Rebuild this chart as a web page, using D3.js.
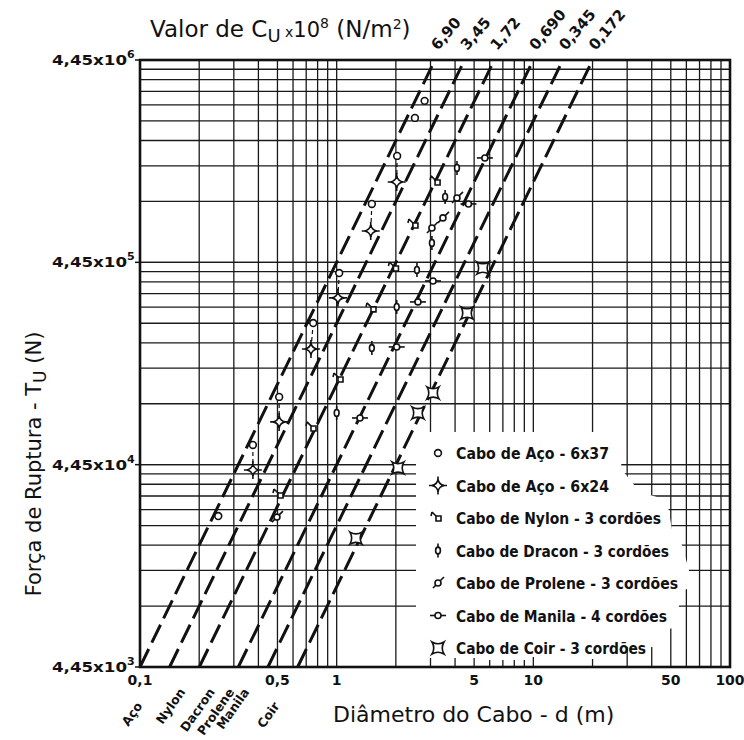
<!DOCTYPE html>
<html>
<head>
<meta charset="utf-8">
<script src="https://cdn.jsdelivr.net/npm/d3@7"></script>
<style>
  body { margin: 0; background: #fff; }
  svg { display: block; }
  text { font-family: "DejaVu Sans", sans-serif; fill: #111; }
</style>
</head>
<body>
<svg id="chart" width="744" height="740"></svg>
<script>
// Ultimate strength coefficients Cu (x10^8 N/m^2) of the reference lines
const cuValues = [6.90, 3.45, 1.72, 0.690, 0.345, 0.172];
const cuLabels = ["6,90", "3,45", "1,72", "0,690", "0,345", "0,172"];

// Material names written under the bottom axis and the diameter where each ends
const materialNames = ["Aço", "Nylon", "Dacron", "Prolene", "Manila", "Coir"];
const materialAt = [0.1, 0.165, 0.233, 0.293, 0.349, 0.497];

// Axis tick labels
const xTickValues = [0.1, 0.5, 1, 5, 10, 50, 100];
const xTickLabels = ["0,1", "0,5", "1", "5", "10", "50", "100"];
const yTickValues = [4450, 44500, 445000, 4450000];
const yTickExp = ["3", "4", "5", "6"];

// Measured breaking force Tu (N) against rope diameter d
const aco6x37 = [[0.25, 24800], [0.375, 55700], [0.51, 96200], [0.76, 223000], [1.03, 394000],
                 [1.51, 865000], [2.03, 1494000], [2.5, 2302000], [2.8, 2795000]];
const aco6x24 = [[0.375, 41900], [0.51, 72400], [0.74, 166000], [1.015, 297000], [1.49, 636000],
                 [2.02, 1111000]];
const nylon   = [[0.515, 31500], [0.758, 67600], [1.04, 118000], [1.53, 262000], [1.99, 417000],
                 [2.5, 681000], [3.24, 1111000]];
const dracon  = [[1.0, 80200], [1.51, 167900], [2.02, 267900], [2.56, 408000], [3.05, 555000],
                 [3.56, 937000], [4.09, 1303000]];
const prolene = [[0.497, 24500], [3.05, 658000], [3.47, 738000], [4.09, 926000]];
const manila  = [[1.314, 75700], [2.02, 169900], [2.59, 283600], [3.09, 360000], [4.68, 865000],
                 [5.67, 1460000]];
const coir    = [[1.253, 19300], [2.05, 42900], [2.59, 80200], [3.09, 100700], [4.6, 250000],
                 [5.54, 417000]];

const seriesNames = ["Cabo de Aço - 6x37", "Cabo de Aço - 6x24", "Cabo de Nylon - 3 cordões",
  "Cabo de Dracon - 3 cordões", "Cabo de Prolene - 3 cordões", "Cabo de Manila - 4 cordões",
  "Cabo de Coir - 3 cordões"];
const seriesData = [aco6x37, aco6x24, nylon, dracon, prolene, manila, coir];
const seriesShape = ["circle", "star", "nylon", "dracon", "prolene", "manila", "coir"];

// ---------------------------------------------------------------
const L = 140, R = 730, T = 60, B = 667;
const x = d3.scaleLog().domain([0.1, 100]).range([L, R]);
const y = d3.scaleLog().domain([4450, 4450000]).range([B, T]);
const svg = d3.select("#chart");

// log grid: every integer multiple inside each decade
const yGrid = [];
[4450, 44500, 445000].forEach(base => { for (let k = 1; k <= 10; k++) yGrid.push(base * k); });

const grid = svg.append("g").attr("stroke", "#1a1a1a").attr("stroke-width", 1.3);
grid.selectAll("line.v").data(x.ticks()).join("line")
  .attr("x1", d => x(d)).attr("x2", d => x(d)).attr("y1", T).attr("y2", B);
grid.selectAll("line.h").data(yGrid).join("line")
  .attr("y1", d => y(d)).attr("y2", d => y(d)).attr("x1", L).attr("x2", R);

// white panel behind the legend
svg.append("path")
  .attr("d", "M416,432 L612,432 L619,448 L622,470 L640,492 L667,500 L672,530 L682,545 L690,574 L690,588 L681,591 L676,627 L666,630 L666,666 L416,666 Z")
  .attr("fill", "#fff");

// bottom axis stubs that remain under the legend panel
const stubs = [[3, 9], [4, 9], [5, 9], [6, 7], [7, 7], [8, 7], [9, 7], [10, 10], [20, 8], [30, 20], [40, 20]];
svg.append("g").attr("stroke", "#1a1a1a").attr("stroke-width", 1.3)
  .selectAll("line").data(stubs).join("line")
  .attr("x1", d => x(d[0])).attr("x2", d => x(d[0]))
  .attr("y1", B).attr("y2", d => B - d[1]);

// Cu reference lines: Tu = Cu * 1e8 * (0.0254 d)^2
const dAt = (tu, cu) => Math.sqrt(tu / (cu * 1e8)) / 0.0254;
svg.append("g").attr("stroke", "#111").attr("stroke-width", 3)
  .attr("stroke-dasharray", "20,7").attr("fill", "none")
  .selectAll("line").data(cuValues).join("line")
  .attr("x1", cu => x(dAt(4450, cu))).attr("y1", y(4450))
  .attr("x2", cu => x(dAt(4450000, cu))).attr("y2", y(4450000));

// thin dashed ties between the two steel ropes of the same diameter
const ties = aco6x24.map((p, i) => [aco6x37[i + 1], p]);
svg.append("g").attr("stroke", "#111").attr("stroke-width", 1.2).attr("stroke-dasharray", "4,3")
  .selectAll("line").data(ties).join("line")
  .attr("x1", d => x(d[0][0])).attr("y1", d => y(d[0][1]))
  .attr("x2", d => x(d[1][0])).attr("y2", d => y(d[1][1]));

// marker shapes
function drawMarker(g, shape) {
  g.attr("fill", "#fff").attr("stroke", "#111").attr("stroke-width", 1.6);
  if (shape === "circle") {
    g.append("circle").attr("r", 3.4);
  } else if (shape === "star") {
    g.append("path").attr("fill", "none").attr("d", "M-9,0 L9,0 M0,-9 L0,9");
    g.append("path").attr("d", "M0,-6 Q1,-1 6,0 Q1,1 0,6 Q-1,1 -6,0 Q-1,-1 0,-6Z");
  } else if (shape === "nylon") {
    g.append("path").attr("fill", "none").attr("d", "M-6,-6 L-1,-1 M-6,-6 L-7,-2");
    g.append("path").attr("d", "M-2,-2 L3,-2 L3,3 L-2,3 Z");
  } else if (shape === "dracon") {
    g.append("line").attr("y1", -7).attr("y2", 7);
    g.append("ellipse").attr("rx", 2.4).attr("ry", 3.4);
  } else if (shape === "prolene") {
    g.append("line").attr("x1", -5).attr("y1", 5).attr("x2", 6).attr("y2", -6);
    g.append("circle").attr("r", 3);
  } else if (shape === "manila") {
    g.append("line").attr("x1", -8).attr("x2", 8);
    g.append("circle").attr("r", 3);
  } else if (shape === "coir") {
    g.append("path").attr("d", "M-6,-6 Q0,-2.5 6,-6 Q2.5,0 6,6 Q0,2.5 -6,6 Q-2.5,0 -6,-6Z");
  }
}

seriesData.forEach((data, i) => {
  svg.append("g").selectAll("g").data(data).join("g")
    .attr("transform", d => `translate(${x(d[0])},${y(d[1])})`)
    .each(function () { drawMarker(d3.select(this), seriesShape[i]); });
});

// frame
svg.append("rect").attr("x", L).attr("y", T).attr("width", R - L).attr("height", B - T)
  .attr("fill", "none").attr("stroke", "#111").attr("stroke-width", 2.6);

// legend
const legendTextWidth = [153, 153, 205, 213, 222, 211, 190];
const leg = svg.append("g");
seriesNames.forEach((name, i) => {
  const ly = 453 + i * 32.5;
  const m = leg.append("g").attr("transform", `translate(438,${ly})`);
  drawMarker(m, seriesShape[i]);
  leg.append("text").attr("x", 456).attr("y", ly + 6)
    .attr("font-size", 15).attr("font-weight", "bold")
    .attr("textLength", legendTextWidth[i]).attr("lengthAdjust", "spacingAndGlyphs")
    .text(name);
});

// y axis labels
const yl = svg.append("g");
yTickValues.forEach((v, i) => {
  const py = y(v);
  yl.append("line").attr("x1", L - 5).attr("x2", L).attr("y1", py).attr("y2", py)
    .attr("stroke", "#111").attr("stroke-width", 1.5);
  const t = yl.append("text").attr("x", 52).attr("y", py + 5)
    .attr("font-size", 14).attr("font-weight", "bold");
  t.append("tspan").attr("textLength", 75).attr("lengthAdjust", "spacingAndGlyphs").text("4,45x10");
  t.append("tspan").attr("dy", -7).attr("font-size", 11).text(yTickExp[i]);
});

// x axis labels
svg.append("g").selectAll("text").data(xTickValues).join("text")
  .attr("x", d => x(d)).attr("y", 685)
  .attr("text-anchor", "middle").attr("font-size", 14).attr("font-weight", "bold")
  .text((d, i) => xTickLabels[i]);

// Cu values at the top end of each line
svg.append("g").selectAll("text").data(cuValues).join("text")
  .attr("transform", cu => `translate(${x(dAt(4450000, cu)) + 3},51) rotate(-50)`)
  .attr("font-size", 15).attr("font-weight", "bold")
  .text((d, i) => cuLabels[i]);

// material names along the bottom
svg.append("g").selectAll("text").data(materialAt).join("text")
  .attr("transform", d => `translate(${x(d) + 3},${d === 0.1 || d === 0.497 ? 706 : 692}) rotate(-55)`)
  .attr("text-anchor", "end").attr("font-size", 12.5).attr("font-weight", "bold")
  .text((d, i) => materialNames[i]);

// titles
const title = svg.append("text").attr("x", 150).attr("y", 37).attr("font-size", 23);
title.append("tspan").text("Valor de C");
title.append("tspan").attr("dy", 5).attr("font-size", 18).text("U");
title.append("tspan").attr("dy", -5).attr("font-size", 14).text(" x");
title.append("tspan").attr("font-size", 21).text("10");
title.append("tspan").attr("dy", -9).attr("font-size", 14).text("8");
title.append("tspan").attr("dy", 9).text(" (N/m");
title.append("tspan").attr("dy", -8).attr("font-size", 14).text("2");
title.append("tspan").attr("dy", 8).text(")");

svg.append("text").attr("x", 333).attr("y", 722).attr("font-size", 22)
  .text("Diâmetro do Cabo - d (m)");

const yt = svg.append("text").attr("transform", "translate(41,464) rotate(-90)")
  .attr("text-anchor", "middle").attr("font-size", 21);
yt.append("tspan").text("Força de Ruptura - T");
yt.append("tspan").attr("dy", 5).attr("font-size", 17).text("U");
yt.append("tspan").attr("dy", -5).text(" (N)");
</script>
</body>
</html>
